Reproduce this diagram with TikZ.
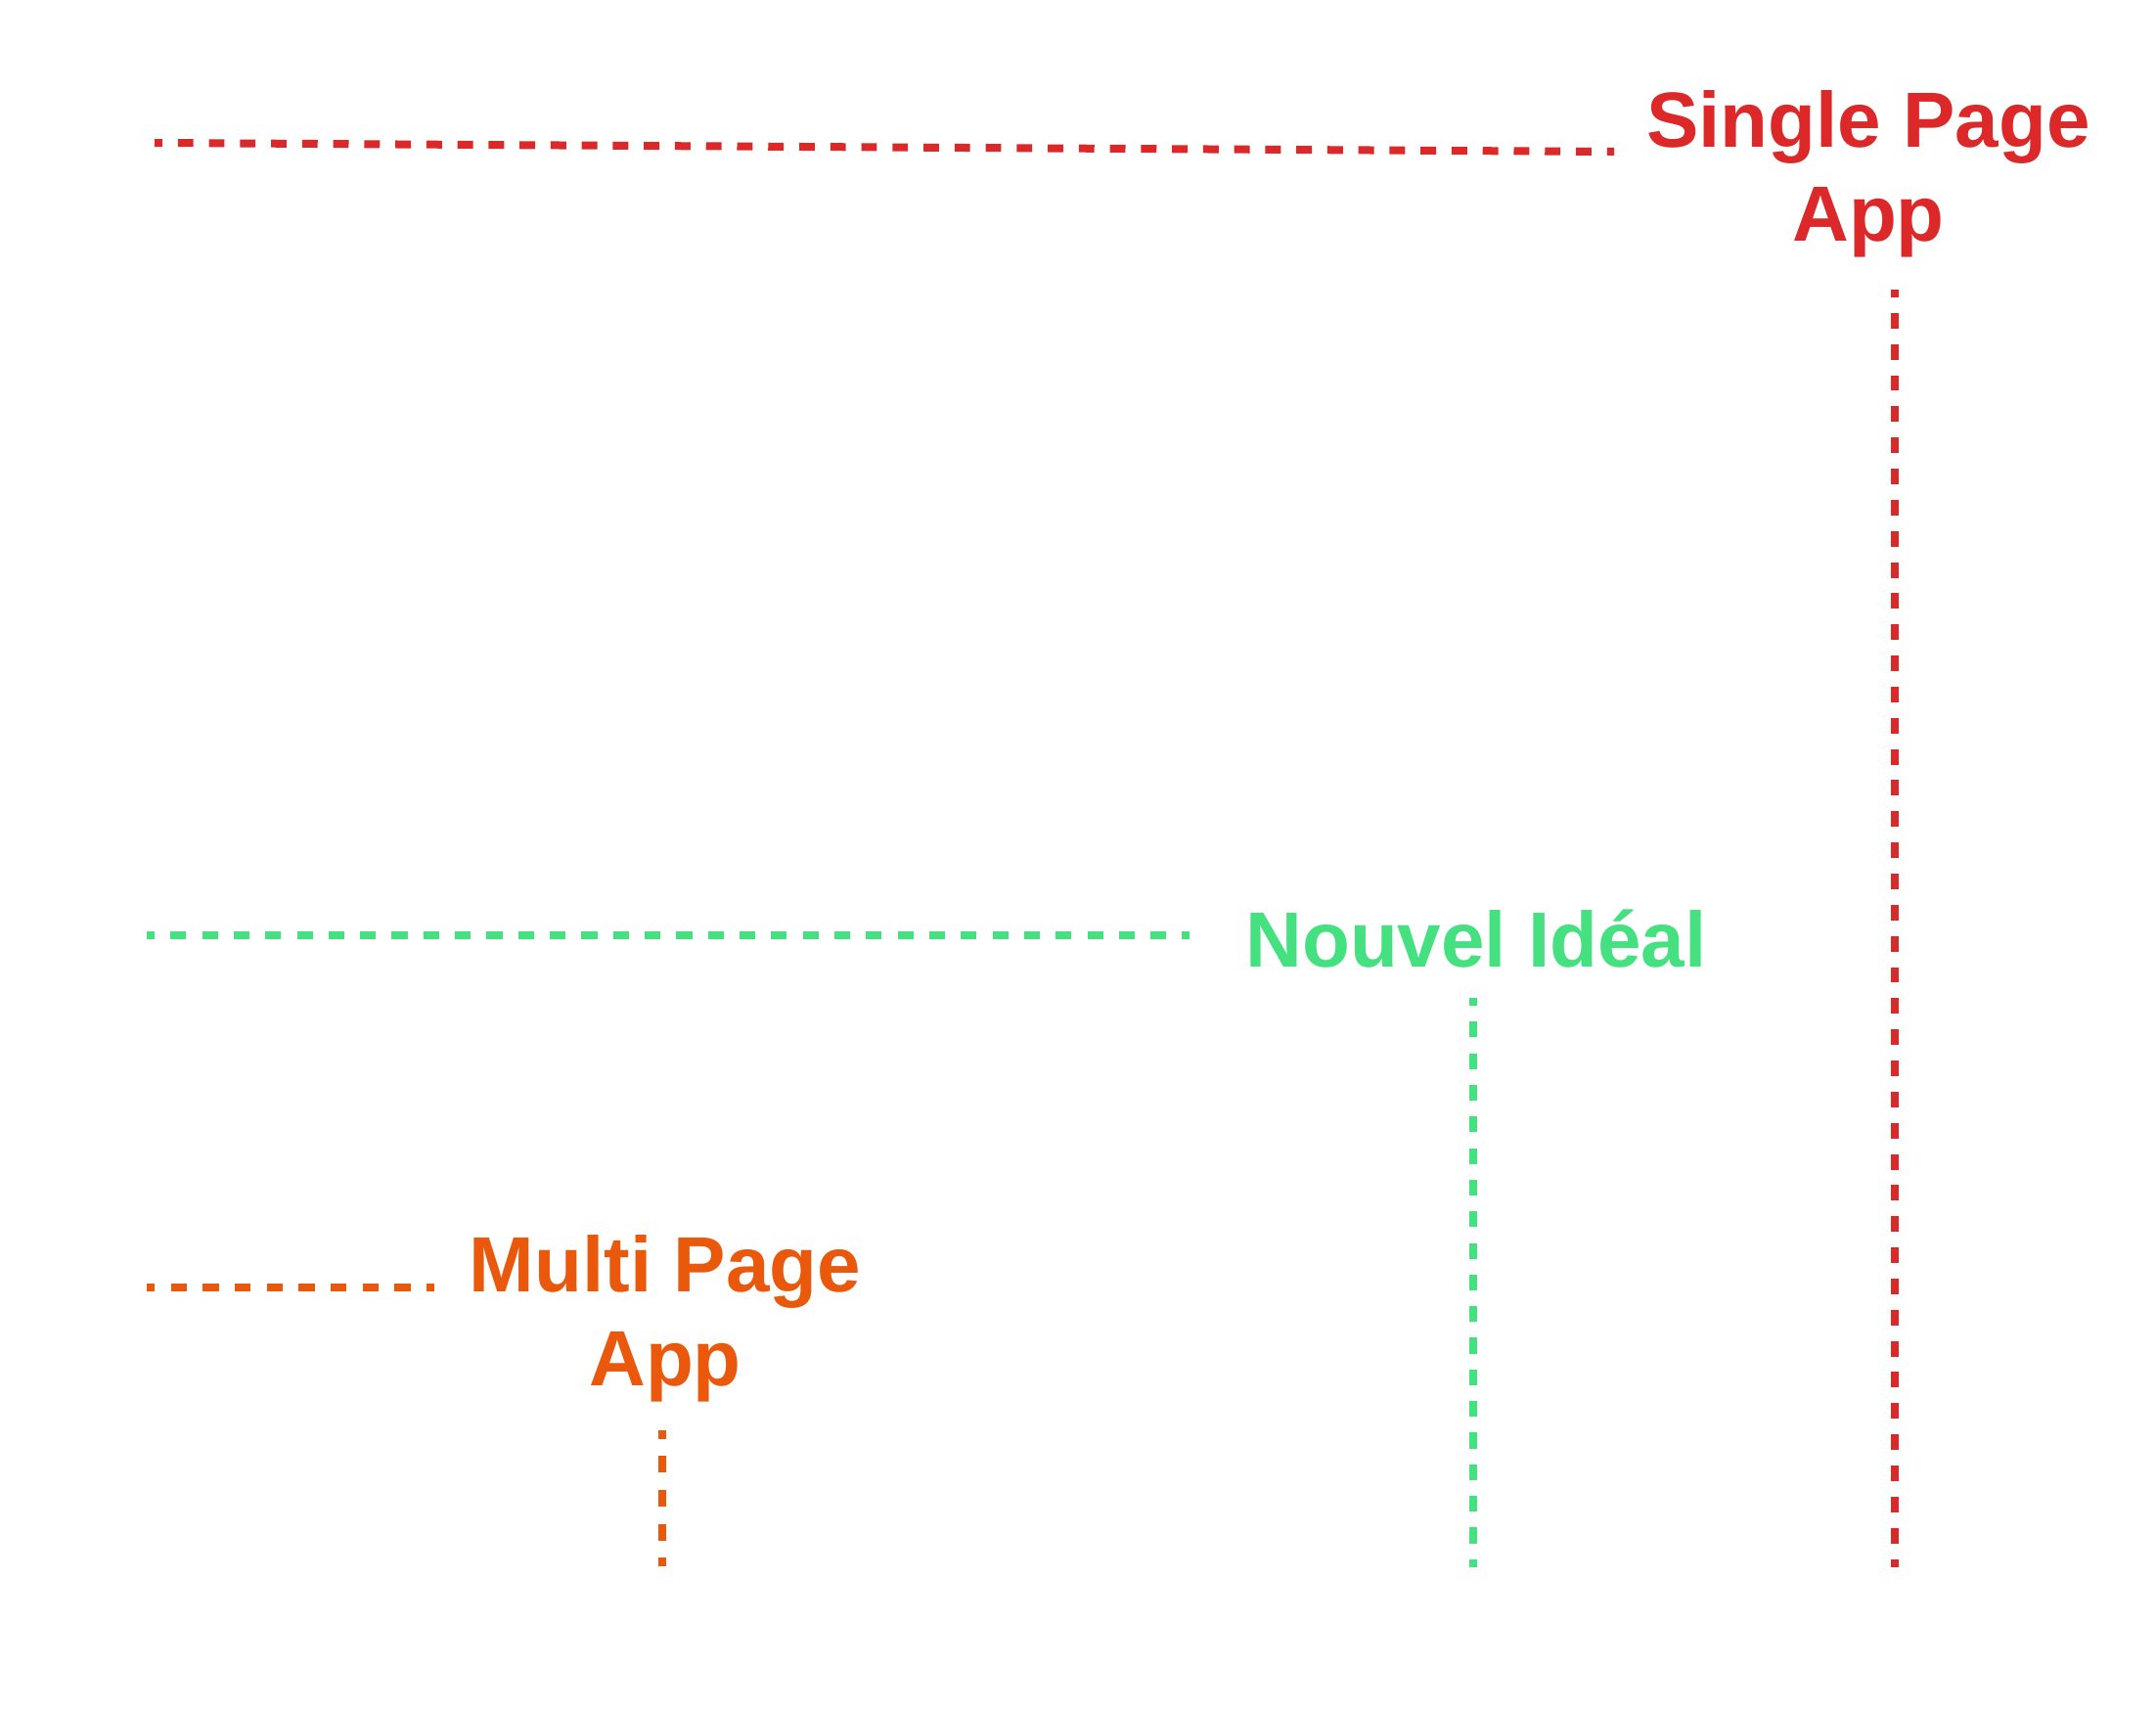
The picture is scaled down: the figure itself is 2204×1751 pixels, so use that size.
\documentclass[tikz,border=0pt]{standalone}
\usepackage{fontspec}
\setmainfont{Liberation Sans}
\definecolor{spared}{HTML}{DC2828}
\definecolor{idealgreen}{HTML}{45E07F}
\definecolor{mpaorange}{HTML}{EA580C}
\begin{document}
\begin{tikzpicture}[x=0.5pt,y=-0.5pt,
  lbl/.style={font=\bfseries\fontsize{40}{48}\selectfont, align=center, inner sep=0pt},
  guide/.style 2 args={line width=4pt, dash pattern=on #1pt off #1pt, dash phase=#2pt}]
\useasboundingbox[fill=white] (0,0) rectangle (2204,1751);
% labels
\node[lbl, text=spared, anchor=base] (spa) at (1910,246) {Single Page\\App};
\node[lbl, text=idealgreen, anchor=base] (ideal) at (1509,988) {Nouvel Idéal};
\node[lbl, text=mpaorange, anchor=base] (mpa) at (680,1416) {Multi Page\\App};
% line end points
\coordinate (spaL) at (158,146);
\coordinate (spaR) at (1650,155);
\coordinate (spaT) at (1937,296);
\coordinate (spaB) at (1937,1602);
\coordinate (idealL) at (150,956);
\coordinate (idealR) at (1216,956);
\coordinate (idealT) at (1506,1020);
\coordinate (idealB) at (1506,1602);
\coordinate (mpaL) at (150,1316);
\coordinate (mpaR) at (444,1316);
\coordinate (mpaT) at (677,1462);
\coordinate (mpaB) at (677,1601);
% guides
\draw[guide={7.94}{3.97}, spared] (spaL) -- (spaR);
\draw[guide={7.96}{3.98}, spared] (spaT) -- (spaB);
\draw[guide={8.08}{4.04}, idealgreen] (idealL) -- (idealR);
\draw[guide={8.08}{4.04}, idealgreen] (idealT) -- (idealB);
\draw[guide={8.17}{4.08}, mpaorange] (mpaL) -- (mpaR);
\draw[guide={8.69}{4.34}, mpaorange] (mpaT) -- (mpaB);
\end{tikzpicture}
\end{document}
